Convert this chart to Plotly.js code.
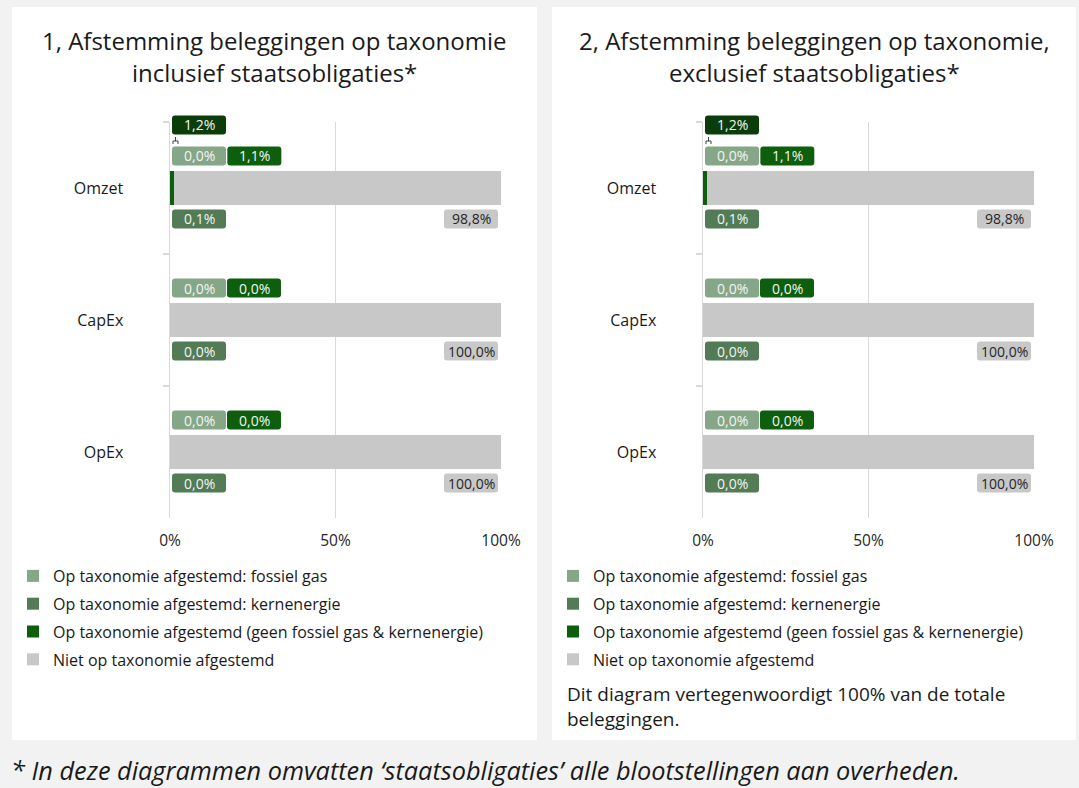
<!DOCTYPE html>
<html>
<head>
<meta charset="utf-8">
<script src="https://cdn.plot.ly/plotly-3.0.1.min.js"></script>
<style>html,body{margin:0;padding:0;background:#f2f2f2;}#chart{width:1079px;height:788px;}</style>
</head>
<body>
<div id="chart"></div>
<script>
// ---- data ----
const categories = ['Omzet', 'CapEx', 'OpEx'];
const seriesNames = [
  'Op taxonomie afgestemd: fossiel gas',
  'Op taxonomie afgestemd: kernenergie',
  'Op taxonomie afgestemd (geen fossiel gas & kernenergie)',
  'Niet op taxonomie afgestemd'
];
// Panel 1: inclusief staatsobligaties
const fossilGas1 = [0.0, 0.0, 0.0];
const kernenergie1 = [0.1, 0.0, 0.0];
const geenFossielKern1 = [1.1, 0.0, 0.0];
const nietAfgestemd1 = [98.8, 100.0, 100.0];
// Panel 2: exclusief staatsobligaties
const fossilGas2 = [0.0, 0.0, 0.0];
const kernenergie2 = [0.1, 0.0, 0.0];
const geenFossielKern2 = [1.1, 0.0, 0.0];
const nietAfgestemd2 = [98.8, 100.0, 100.0];
const xTickVals = [0, 50, 100];
const xTickText = ['0%', '50%', '100%'];
const titles = [
  ['1, Afstemming beleggingen op taxonomie', 'inclusief staatsobligaties*'],
  ['2, Afstemming beleggingen op taxonomie,', 'exclusief staatsobligaties*']
];
const noteText = 'Dit diagram vertegenwoordigt 100% van de totale<br>beleggingen.';
const footnote = '* In deze diagrammen omvatten ‘staatsobligaties’ alle blootstellingen aan overheden.';

// ---- style ----
const colors = ['#86a787', '#527b56', '#0d5e0d', '#c8c8c8'];
const totalColor = '#0b3d0b';
const FONT = 'Open Sans, Noto Sans, sans-serif';
const W = 1079, H = 788;
const px = v => v / W;
const py = v => (H - v) / H;
const yDomain = [py(518), py(122)];
const xDomains = [[px(170), px(501)], [px(703), px(1034)]];

function fmt(v) { return v.toFixed(1).replace('.', ',') + '%'; }
function rrect(x0, x1, y0, y1, r) {
  return `M ${x0 + r} ${y0} L ${x1 - r} ${y0} Q ${x1} ${y0} ${x1} ${y0 + r} L ${x1} ${y1 - r} ` +
    `Q ${x1} ${y1} ${x1 - r} ${y1} L ${x0 + r} ${y1} Q ${x0} ${y1} ${x0} ${y1 - r} ` +
    `L ${x0} ${y0 + r} Q ${x0} ${y0} ${x0 + r} ${y0} Z`;
}

const panels = [
  {series: [fossilGas1, kernenergie1, geenFossielKern1, nietAfgestemd1], xa: 'x', ya: 'y', legend: 'legend', key: 'p1', dom: xDomains[0]},
  {series: [fossilGas2, kernenergie2, geenFossielKern2, nietAfgestemd2], xa: 'x2', ya: 'y2', legend: 'legend2', key: 'p2', dom: xDomains[1]}
];

const traces = [];
const annotations = [];
const shapes = [];

panels.forEach(p => {
  p.series.forEach((vals, i) => {
    traces.push({
      type: 'bar', orientation: 'h',
      x: vals, y: categories,
      name: seriesNames[i],
      marker: {color: colors[i], line: {width: 0}},
      xaxis: p.xa, yaxis: p.ya,
      legend: p.legend, legendgroup: p.key + '_' + i,
      hoverinfo: 'skip'
    });
  });
  // data labels: rounded box (shape) + text (annotation)
  categories.forEach((cat, ci) => {
    const f = p.series[0][ci], k = p.series[1][ci], g = p.series[2][ci], n = p.series[3][ci];
    const lf = {family: FONT, size: 14, color: '#f4f4f4'};
    function label(xval, dx0, dx1, dy, text, fill, font) {
      shapes.push({type: 'path', xref: p.xa, yref: p.ya, xsizemode: 'pixel', ysizemode: 'pixel',
        xanchor: xval, yanchor: ci, layer: 'above',
        path: rrect(dx0, dx1, dy - 9.5, dy + 9.5, 3), fillcolor: fill, line: {width: 0}});
      annotations.push({xref: p.xa, yref: p.ya, x: xval, y: cat, showarrow: false,
        xanchor: 'center', yanchor: 'middle', xshift: (dx0 + dx1) / 2, yshift: dy,
        text: text, font: font});
    }
    label(0, 2, 56, 32, fmt(f), colors[0], lf);
    label(f + k, 57, 111, 32, fmt(g), colors[2], lf);
    label(f, 2, 56, -31, fmt(k), colors[1], lf);
    label(f + k + g + n, -57, -3, -31, fmt(n), colors[3], {family: FONT, size: 14, color: '#262626'});
    const tot = f + k + g;
    if (tot > 0) {
      // total callout sits above the plot area: anchor in paper coords so it is not clipped
      const catY = yDomain[1] - (ci + 0.5) / categories.length * (yDomain[1] - yDomain[0]);
      shapes.push({type: 'path', xref: 'paper', yref: 'paper', xsizemode: 'pixel', ysizemode: 'pixel',
        xanchor: p.dom[0], yanchor: catY, layer: 'above',
        path: rrect(2, 56, 63 - 9.5, 63 + 9.5, 3), fillcolor: totalColor, line: {width: 0}});
      annotations.push({xref: p.xa, yref: p.ya, x: 0, y: cat, showarrow: false,
        xanchor: 'center', yanchor: 'middle', xshift: 29, yshift: 63, text: fmt(tot), font: lf});
      shapes.push({type: 'path', xref: p.xa, yref: p.ya, xsizemode: 'pixel', ysizemode: 'pixel',
        xanchor: 0, yanchor: ci,
        path: 'M 3 44 L 3 47 L 8 47 L 8 44 M 5.5 47 L 5.5 51',
        line: {color: '#404040', width: 1}});
    }
  });
});

// panel backgrounds
[[12, 537], [552, 1076]].forEach(([a, b]) => {
  shapes.push({type: 'rect', xref: 'paper', yref: 'paper', x0: px(a), x1: px(b), y0: py(740), y1: py(7),
    fillcolor: '#ffffff', line: {width: 0}, layer: 'below'});
});

// titles
[274.5, 814].forEach((cx, i) => {
  annotations.push({xref: 'paper', yref: 'paper', x: px(cx), y: py(40), xanchor: 'center', yanchor: 'middle',
    showarrow: false, text: titles[i][0], font: {family: FONT, size: 24, color: '#1a1a1a'}});
  annotations.push({xref: 'paper', yref: 'paper', x: px(cx), y: py(72), xanchor: 'center', yanchor: 'middle',
    showarrow: false, text: titles[i][1], font: {family: FONT, size: 24, color: '#1a1a1a'}});
});

// note in panel 2
annotations.push({xref: 'paper', yref: 'paper', x: px(565), y: py(679), xanchor: 'left', yanchor: 'top',
  showarrow: false, align: 'left', text: noteText, font: {family: FONT, size: 19, color: '#1a1a1a'}});

// footnote
annotations.push({xref: 'paper', yref: 'paper', x: px(9), y: py(770), xanchor: 'left', yanchor: 'middle',
  showarrow: false, text: '<i>' + footnote + '</i>', font: {family: FONT, size: 25.3, color: '#1a1a1a'}});

const xAxisBase = {range: [0, 100], tickvals: xTickVals, ticktext: xTickText, showgrid: true,
  gridcolor: '#d9d9d9', gridwidth: 1.5, zeroline: false, showline: false, ticks: '', fixedrange: true,
  ticklabelstandoff: 11,
  tickfont: {family: FONT, size: 15.5, color: '#262626'}};
const yAxisBase = {type: 'category', autorange: 'reversed', showgrid: false, showline: true,
  linecolor: '#d9d9d9', linewidth: 1.5, ticks: 'outside', tickson: 'boundaries', ticklen: 6,
  tickcolor: '#d9d9d9', tickwidth: 1.5, ticklabelstandoff: 42, fixedrange: true,
  tickfont: {family: FONT, size: 16, color: '#1a1a1a'}, domain: yDomain};

const legendBase = {xanchor: 'left', yanchor: 'top', bgcolor: 'rgba(0,0,0,0)', traceorder: 'grouped',
  tracegroupgap: 4, itemclick: false, itemdoubleclick: false,
  font: {family: FONT, size: 16, color: '#1a1a1a'}};

const layout = {
  width: W, height: H,
  margin: {l: 0, r: 0, t: 0, b: 0},
  paper_bgcolor: '#f2f2f2', plot_bgcolor: '#ffffff',
  barmode: 'stack', bargap: 0.742,
  showlegend: true,
  xaxis: Object.assign({}, xAxisBase, {domain: xDomains[0], anchor: 'y'}),
  yaxis: Object.assign({}, yAxisBase, {anchor: 'x'}),
  xaxis2: Object.assign({}, xAxisBase, {domain: xDomains[1], anchor: 'y2'}),
  yaxis2: Object.assign({}, yAxisBase, {anchor: 'x2'}),
  legend: Object.assign({}, legendBase, {x: px(13), y: py(559)}),
  legend2: Object.assign({}, legendBase, {x: px(553), y: py(559)}),
  annotations: annotations,
  shapes: shapes,
  font: {family: FONT}
};

Plotly.newPlot('chart', traces, layout, {displayModeBar: false, staticPlot: true});
</script>
</body>
</html>
